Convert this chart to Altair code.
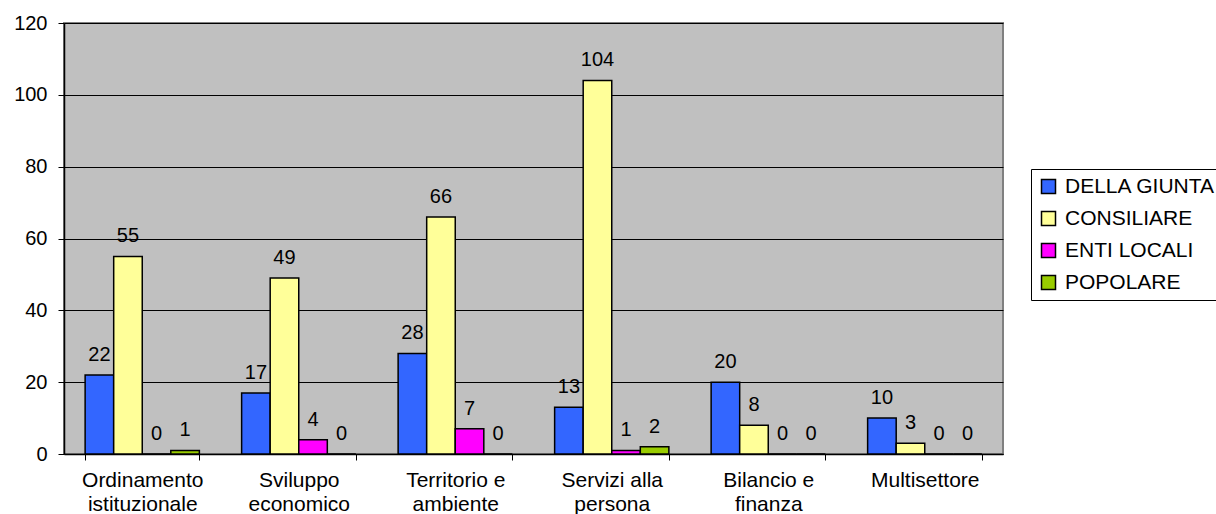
import altair as alt
import pandas as pd

categories = [
    "Ordinamento\nistituzionale",
    "Sviluppo\neconomico",
    "Territorio e\nambiente",
    "Servizi alla\npersona",
    "Bilancio e\nfinanza",
    "Multisettore",
]
series = ["DELLA GIUNTA", "CONSILIARE", "ENTI LOCALI", "POPOLARE"]
colors = ["#3366FF", "#FFFF99", "#FF00FF", "#99CC00"]

della_giunta = [22, 17, 28, 13, 20, 10]
consiliare = [55, 49, 66, 104, 8, 3]
enti_locali = [0, 4, 7, 1, 0, 0]
popolare = [1, 0, 0, 2, 0, 0]

rows = []
for name, vals in zip(series, [della_giunta, consiliare, enti_locali, popolare]):
    for cat, v in zip(categories, vals):
        rows.append({"categoria": cat, "tipo": name, "valore": v})
df = pd.DataFrame(rows)

FONT = "Liberation Sans"

x_enc = alt.X(
    "categoria:N",
    sort=categories,
    title=None,
    scale=alt.Scale(paddingInner=0.27, paddingOuter=0.135),
    axis=alt.Axis(
        labelAngle=0,
        labelExpr="split(datum.label, '\\n')",
        labelFontSize=21,
        labelFont=FONT,
        labelColor="black",
        labelPadding=9,
        labelLineHeight=24,
        labelLimit=300,
        tickBand="extent",
        tickSize=6,
        tickColor="black",
        domainColor="black",
        domainWidth=1.5,
        grid=False,
    ),
)
xo_enc = alt.XOffset(
    "tipo:N", sort=series, scale=alt.Scale(paddingInner=0, paddingOuter=0)
)
y_enc = alt.Y(
    "valore:Q",
    title=None,
    scale=alt.Scale(domain=[0, 120], nice=False),
    axis=alt.Axis(
        values=[0, 20, 40, 60, 80, 100, 120],
        labelFontSize=20,
        labelFont=FONT,
        labelColor="black",
        labelPadding=11,
        tickSize=6,
        tickColor="black",
        domainColor="black",
        domainWidth=1.5,
        gridColor="black",
        gridWidth=1,
    ),
)

bars = alt.Chart(df).mark_bar(stroke="black", strokeWidth=1.5).encode(
    x=x_enc,
    xOffset=xo_enc,
    y=y_enc,
    color=alt.Color(
        "tipo:N",
        sort=series,
        scale=alt.Scale(domain=series, range=colors),
        legend=alt.Legend(
            title=None,
            orient="none",
            legendX=967,
            legendY=146,
            symbolType="square",
            symbolSize=196,
            symbolStrokeColor="black",
            symbolStrokeWidth=1.5,
            labelFontSize=21,
            labelFont=FONT,
            labelColor="black",
            labelOffset=6,
            rowPadding=10,
            padding=7,
            strokeColor="black",
            fillColor="white",
            labelLimit=300,
        ),
    ),
)

labels = alt.Chart(df).mark_text(
    baseline="alphabetic", dy=-14, fontSize=20, font=FONT, color="black"
).encode(
    x=alt.X("categoria:N", sort=categories),
    xOffset=alt.XOffset("tipo:N", sort=series),
    y=alt.Y("valore:Q"),
    text=alt.Text("valore:Q"),
)

chart = (
    alt.layer(bars, labels)
    .properties(
        width=939,
        height=431,
        autosize=alt.AutoSizeParams(type="none"),
        padding={"left": 64, "top": 23, "right": 213, "bottom": 60},
        background="white",
    )
    .configure_view(fill="#C0C0C0", stroke="#808080", strokeWidth=2)
)

chart.save("out.html", embed_options={"renderer": "svg", "actions": False})
